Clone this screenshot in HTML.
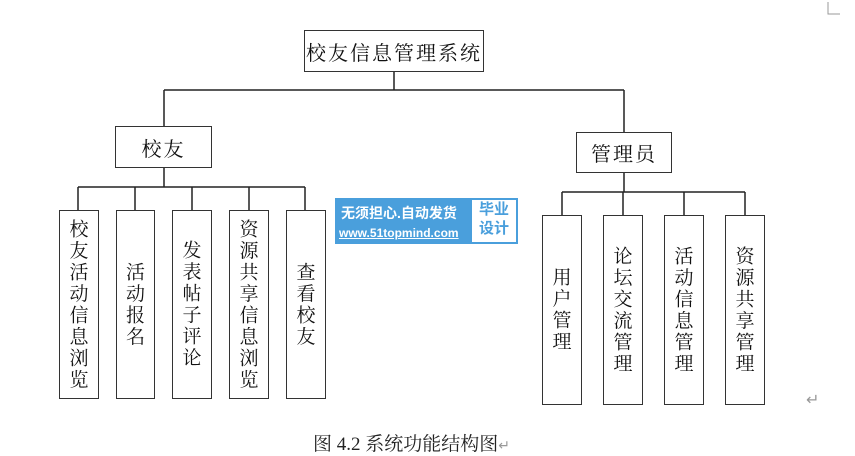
<!DOCTYPE html>
<html><head><meta charset="utf-8"><style>
html,body{margin:0;padding:0;background:#fff;width:855px;height:443px;overflow:hidden;}
.b{position:absolute;border:1.5px solid #333;box-sizing:border-box;background:#fff;font-family:"Noto Serif CJK SC","WenQuanYi Zen Hei",serif;color:#111;display:flex;align-items:center;justify-content:center;}
.v{writing-mode:vertical-rl;font-size:19px;line-height:1;letter-spacing:2.5px;}
.h{font-size:20px;letter-spacing:2px;}
svg{position:absolute;left:0;top:0;}
</style></head><body>
<svg width="855" height="443">
<g stroke="#222" stroke-width="1.5" fill="none">
<path d="M394 72V90M164 90H624M164 90V126M624 90V132"/>
<path d="M164 168V187M78 187H305M78 187V210M135 187V210M192 187V210M249 187V210M305 187V210"/>
<path d="M624 173V192M562 192H745M562 192V215M623 192V215M684 192V215M745 192V215"/>
</g>
<path d="M828 2V14H840" stroke="#999" fill="none" stroke-width="1"/>
</svg>
<div class="b h" style="left:304px;top:30px;width:180px;height:42px;">校友信息管理系统</div>
<div class="b h" style="left:115px;top:126px;width:97px;height:42px;">校友</div>
<div class="b h" style="left:576px;top:132px;width:96px;height:41px;">管理员</div>
<div class="b v" style="left:59px;top:210px;width:40px;height:189px;">校友活动信息浏览</div>
<div class="b v" style="left:116px;top:210px;width:39px;height:189px;">活动报名</div>
<div class="b v" style="left:172px;top:210px;width:40px;height:189px;">发表帖子评论</div>
<div class="b v" style="left:229px;top:210px;width:40px;height:189px;">资源共享信息浏览</div>
<div class="b v" style="left:286px;top:210px;width:40px;height:189px;">查看校友</div>
<div class="b v" style="left:542px;top:215px;width:40px;height:190px;">用户管理</div>
<div class="b v" style="left:603px;top:215px;width:40px;height:190px;">论坛交流管理</div>
<div class="b v" style="left:664px;top:215px;width:40px;height:190px;">活动信息管理</div>
<div class="b v" style="left:725px;top:215px;width:40px;height:190px;">资源共享管理</div>
<div style="position:absolute;left:335px;top:198px;width:183px;height:46px;background:#4a9fdc;font-family:'Liberation Sans','Noto Sans CJK SC',sans-serif;color:#fff;">
<div style="position:absolute;left:6px;top:5px;font-size:14px;font-weight:bold;">无须担心.自动发货</div>
<div style="position:absolute;left:4px;top:28px;font-size:12px;font-weight:bold;text-decoration:underline;">www.51topmind.com</div>
<div style="position:absolute;left:137px;top:2px;width:44px;height:42px;background:#fff;color:#4a9fdc;font-size:15px;font-weight:bold;line-height:19px;text-align:center;">毕业<br>设计</div>
</div>
<div style="position:absolute;left:806px;top:390px;color:#999;font-size:16px;font-family:'DejaVu Sans',sans-serif;">↵</div>
<div style="position:absolute;left:313px;top:429px;font-size:19px;color:#222;font-family:'Liberation Serif','Noto Serif CJK SC',serif;white-space:nowrap;">图 4.2 系统功能结构图<span style="color:#999;font-size:14px;">↵</span></div>
</body></html>
